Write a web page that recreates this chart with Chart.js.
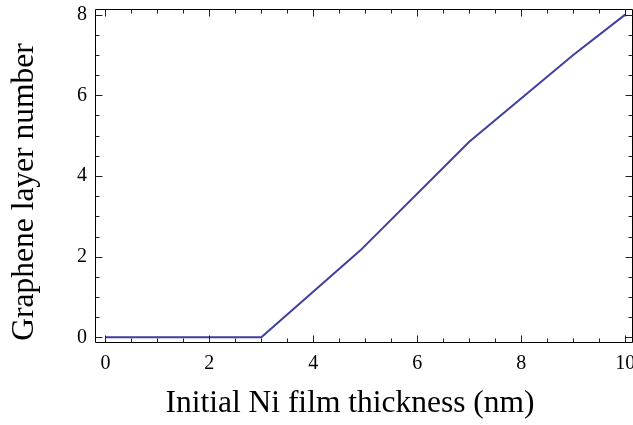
<!DOCTYPE html>
<html>
<head>
<meta charset="utf-8">
<script src="https://cdn.jsdelivr.net/npm/chart.js@4/dist/chart.umd.min.js"></script>
<style>
  html, body { margin: 0; padding: 0; background: #fff; overflow: hidden; }
  #wrap { width: 633px; height: 425px; position: relative; }
</style>
</head>
<body>
<div id="wrap"><canvas id="c"></canvas></div>
<script>
// Ni film thickness (nm) and resulting graphene layer count
const thickness = [0, 3, 4.9, 7, 9, 10];
const layers    = [0, 0, 2.15, 4.85, 7.0, 8.0];

const xTicks = [0, 2, 4, 6, 8, 10];
const yTicks = [0, 2, 4, 6, 8];
const xMinor = [0.5, 1, 1.5, 2.5, 3, 3.5, 4.5, 5, 5.5, 6.5, 7, 7.5, 8.5, 9, 9.5];
const yMinor = [0.5, 1, 1.5, 2.5, 3, 3.5, 4.5, 5, 5.5, 6.5, 7, 7.5];

const xTitle = 'Initial Ni film thickness (nm)';
const yTitle = 'Graphene layer number';

const SERIF = '"Liberation Serif", "Times New Roman", serif';
const LINE_COLOR = '#3f3f9e';
const TITLE_FONT = '31.5px ' + SERIF;

// Framed plot box with inward tick marks on all four sides
const framePlugin = {
  id: 'frame',
  afterDatasetsDraw(chart) {
    const { ctx, chartArea: a, scales: { x, y } } = chart;
    ctx.save();
    ctx.strokeStyle = '#000';
    ctx.lineWidth = 1;
    ctx.beginPath();
    const L = Math.round(a.left) + 0.5, R = Math.round(a.right) - 0.5;
    const T = Math.round(a.top) + 0.5, B = Math.round(a.bottom) - 0.5;
    ctx.rect(L, T, R - L, B - T);
    ctx.stroke();

    ctx.strokeStyle = '#222';
    ctx.beginPath();
    const tickX = (v, len) => {
      const px = Math.round(x.getPixelForValue(v)) + 0.5;
      ctx.moveTo(px, B); ctx.lineTo(px, B - len);
      ctx.moveTo(px, T); ctx.lineTo(px, T + len);
    };
    const tickY = (v, len) => {
      const py = Math.round(y.getPixelForValue(v)) + 0.5;
      ctx.moveTo(L, py); ctx.lineTo(L + len, py);
      ctx.moveTo(R, py); ctx.lineTo(R - len, py);
    };
    xTicks.forEach(v => tickX(v, 7));
    xMinor.forEach(v => tickX(v, 4));
    yTicks.forEach(v => tickY(v, 7));
    yMinor.forEach(v => tickY(v, 4));
    ctx.stroke();
    ctx.restore();
  }
};

// Frame labels (axis titles)
const labelPlugin = {
  id: 'frameLabels',
  afterDraw(chart) {
    const { ctx } = chart;
    ctx.save();
    ctx.fillStyle = '#000';
    ctx.font = TITLE_FONT;
    ctx.textAlign = 'center';
    ctx.textBaseline = 'alphabetic';
    ctx.fillText(xTitle, 350, 412);
    ctx.translate(33, 192);
    ctx.rotate(-Math.PI / 2);
    ctx.fillText(yTitle, 0, 0);
    ctx.restore();
  }
};

new Chart(document.getElementById('c'), {
  type: 'line',
  data: {
    datasets: [{
      data: thickness.map((t, i) => ({ x: t, y: layers[i] })),
      borderColor: LINE_COLOR,
      borderWidth: 2,
      pointRadius: 0,
      tension: 0,
      fill: false
    }]
  },
  options: {
    responsive: true,
    maintainAspectRatio: false,
    animation: false,
    devicePixelRatio: 1,
    layout: { padding: { top: 9, right: 0, bottom: 0, left: 0 } },
    plugins: { legend: { display: false }, tooltip: { enabled: false } },
    scales: {
      x: {
        type: 'linear',
        min: -0.2,
        max: 10.15,
        afterBuildTicks: s => { s.ticks = xTicks.map(v => ({ value: v })); },
        afterFit: s => { s.height = 82; s.paddingLeft = 0; s.paddingRight = 0; },
        grid: { display: false, drawTicks: false },
        border: { display: false },
        ticks: {
          padding: 9,
          color: '#000',
          font: { family: SERIF, size: 20 },
          maxRotation: 0,
          autoSkip: false
        }
      },
      y: {
        type: 'linear',
        min: -0.14,
        max: 8.14,
        afterBuildTicks: s => { s.ticks = yTicks.map(v => ({ value: v })); },
        afterFit: s => { s.width = 95; s.paddingTop = 0; s.paddingBottom = 0; },
        grid: { display: false, drawTicks: false },
        border: { display: false },
        ticks: {
          padding: 8,
          color: '#000',
          font: { family: SERIF, size: 20 },
          autoSkip: false
        }
      }
    }
  },
  plugins: [framePlugin, labelPlugin]
});
</script>
</body>
</html>
